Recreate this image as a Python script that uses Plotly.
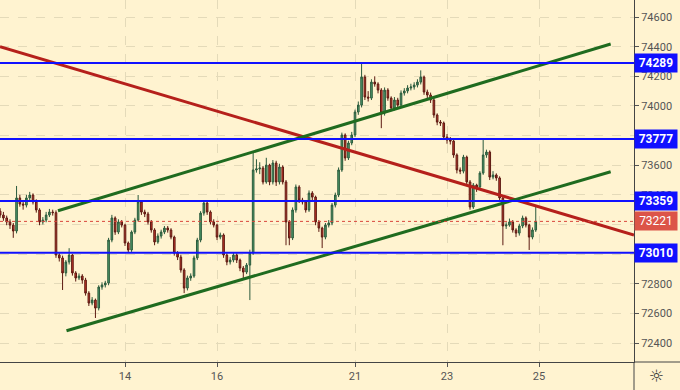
import plotly.graph_objects as go

# ---------------- data ----------------
first_open = 73290
closes = [
    73264, 73244, 73217, 73196, 73156, 73379, 73338, 73331, 73379, 73399,
    73352, 73298, 73217, 73230, 73264, 73284, 73280, 72994, 72974, 72873,
    72947, 72994, 72873, 72839, 72852, 72825, 72737, 72670, 72690, 72636,
    72778, 72792, 72805, 73095, 73244, 73149, 73217, 73196, 73075, 73028,
    73149, 73230, 73352, 73284, 73271, 73217, 73163, 73082, 73122, 73149,
    73176, 73163, 73115, 73007, 72980, 72893, 72771, 72839, 72852, 72974,
    73095, 73277, 73345, 73284, 73217, 73196, 73115, 73129, 72994, 72947,
    72960, 72994, 72960, 72906, 72879, 72926, 73007, 73568, 73575, 73581,
    73487, 73601, 73487, 73615, 73487, 73588, 73487, 73217, 73109, 73298,
    73453, 73365, 73352, 73298, 73412, 73385, 73217, 73176, 73115, 73196,
    73210, 73331, 73399, 73568, 73804, 73649, 73750, 73804, 73959, 74006,
    74195, 74060, 74053, 74161, 74148, 74107, 73952, 74107, 74053, 73986,
    74040, 74006, 74087, 74101, 74121, 74128, 74141, 74161, 74195, 74094,
    74074, 74040, 73939, 73891, 73885, 73790, 73770, 73763, 73669, 73568,
    73560, 73655, 73487, 73318, 73466, 73453, 73547, 73669, 73689, 73520,
    73534, 73514, 73379, 73190, 73196, 73217, 73163, 73142, 73190, 73244,
    73196, 73115, 73163, 73221,
]
highs = [
    73310, 73285, 73260, 73235, 73210, 73460, 73400, 73360, 73400, 73420,
    73410, 73370, 73310, 73250, 73285, 73305, 73300, 73295, 73010, 72990,
    72960, 73040, 73000, 72885, 72870, 72865, 72840, 72750, 72710, 72700,
    72790, 72810, 72820, 73110, 73265, 73255, 73235, 73230, 73205, 73085,
    73160, 73245, 73399, 73365, 73300, 73285, 73230, 73175, 73140, 73165,
    73190, 73190, 73175, 73125, 73020, 72995, 72905, 72855, 72870, 72990,
    73110, 73290, 73365, 73355, 73295, 73235, 73205, 73145, 73140, 73005,
    72980, 73010, 73005, 72970, 72920, 72940, 73030, 73689, 73640, 73620,
    73595, 73650, 73610, 73635, 73630, 73610, 73600, 73500, 73230, 73315,
    73470, 73465, 73380, 73365, 73430, 73425, 73395, 73230, 73185, 73210,
    73230, 73345, 73415, 73585, 73820, 73815, 73765, 73825, 73975, 74030,
    74296, 74210, 74100, 74180, 74200, 74160, 74120, 74125, 74120, 74065,
    74060, 74055, 74105, 74120, 74140, 74150, 74160, 74180, 74240, 74205,
    74110, 74090, 74055, 73950, 73905, 73895, 73810, 73790, 73775, 73680,
    73585, 73670, 73665, 73500, 73480, 73475, 73560, 73783, 73705, 73700,
    73560, 73545, 73525, 73390, 73215, 73240, 73230, 73175, 73205, 73260,
    73255, 73205, 73180, 73320,
]
lows = [
    73245, 73225, 73195, 73170, 73110, 73140, 73320, 73300, 73315, 73365,
    73335, 73280, 73195, 73200, 73215, 73250, 73260, 72975, 72950, 72758,
    72850, 72930, 72855, 72815, 72825, 72800, 72720, 72650, 72655, 72569,
    72620, 72760, 72775, 72790, 73080, 73130, 73135, 73180, 73055, 73010,
    73015, 73135, 73220, 73265, 73250, 73200, 73145, 73060, 73070, 73105,
    73135, 73145, 73100, 72990, 72960, 72875, 72737, 72755, 72820, 72840,
    72960, 73080, 73260, 73265, 73200, 73180, 73095, 73100, 72975, 72925,
    72930, 72945, 72940, 72885, 72839, 72865, 72690, 72995, 73550, 73540,
    73470, 73475, 73465, 73470, 73460, 73470, 73470, 73060, 73060, 73095,
    73280, 73345, 73335, 73280, 73285, 73365, 73195, 73150, 73041, 73100,
    73180, 73195, 73315, 73385, 73555, 73630, 73635, 73735, 73790, 73940,
    73990, 74040, 74030, 74040, 74130, 74085, 73850, 73935, 74035, 73965,
    73970, 73985, 73990, 74070, 74085, 74105, 74110, 74125, 74145, 74075,
    74050, 74020, 73920, 73870, 73865, 73770, 73745, 73740, 73650, 73545,
    73540, 73545, 73470, 73300, 73305, 73420, 73435, 73535, 73650, 73500,
    73505, 73495, 73360, 73060, 73170, 73185, 73145, 73115, 73125, 73175,
    73180, 73028, 73100, 73150,
]
opens = [first_open] + closes[:-1]
slots = list(range(len(closes)))          # one slot per hourly candle

day_labels = ["14", "16", "21", "23", "25"]
day_slots = [38, 66, 108, 136, 164]       # first candle of each labelled day

price_ticks = [72400, 72600, 72800, 73000, 73200, 73400, 73600, 73800,
               74000, 74200, 74400, 74600]
price_tick_labels = ["72400", "72600", "72800", "", "", "73400", "73600", "",
                     "74000", "74200", "74400", "74600"]

level_prices = [74289, 73777, 73359, 73010]
last_price = 73221

red_line_x = [-0.04, 192.9]
red_line_y = [74400, 73129]
green_up_x = [17.6, 185.8]
green_up_y = [73293, 74418]
green_lo_x = [20.2, 185.8]
green_lo_y = [72483, 73556]

x_range = [-0.04, 192.9]
y_range = [72272, 74715]

# ---------------- styles ----------------
BG = "#fff3d0"
BLUE = "#1010ff"
FONT = "Roboto"

fig = go.Figure()

fig.add_trace(go.Candlestick(
    x=slots, open=opens, high=highs, low=lows, close=closes,
    increasing=dict(line=dict(color="#2b5a3c", width=1), fillcolor="#4f9d6c"),
    decreasing=dict(line=dict(color="#5c1a12", width=1), fillcolor="#c8352a"),
    whiskerwidth=0, hoverinfo="skip", showlegend=False,
))

# horizontal levels
for p in level_prices:
    fig.add_shape(type="line", xref="paper", x0=0, x1=1, yref="y", y0=p, y1=p,
                  line=dict(color=BLUE, width=2), layer="above")
fig.add_shape(type="line", xref="paper", x0=0, x1=1, yref="y",
              y0=last_price, y1=last_price,
              line=dict(color="#d9463c", width=1, dash="dot"), layer="above")

# trend lines
fig.add_trace(go.Scatter(x=red_line_x, y=red_line_y, mode="lines",
                         line=dict(color="#b5201b", width=3),
                         hoverinfo="skip", showlegend=False))
fig.add_trace(go.Scatter(x=green_up_x, y=green_up_y, mode="lines",
                         line=dict(color="#1f6b1f", width=3),
                         hoverinfo="skip", showlegend=False))
fig.add_trace(go.Scatter(x=green_lo_x, y=green_lo_y, mode="lines",
                         line=dict(color="#1f6b1f", width=3),
                         hoverinfo="skip", showlegend=False))

# price labels on the axis
for p in level_prices:
    fig.add_annotation(xref="paper", x=1, xanchor="left", yref="y", y=p,
                       text="<b>%d</b>" % p, showarrow=False,
                       font=dict(family=FONT, size=12, color="white"),
                       bgcolor=BLUE, borderpad=2, width=38, align="center")
fig.add_annotation(xref="paper", x=1, xanchor="left", yref="y", y=last_price,
                   text="%d" % last_price, showarrow=False,
                   font=dict(family=FONT, size=12, color="white"),
                   bgcolor="#dc5448", borderpad=2, width=38, align="center")

# settings icon and frame extensions
fig.add_annotation(xref="paper", x=1.035, xanchor="center",
                   yref="paper", y=-0.04, yanchor="middle",
                   text="☼", showarrow=False,
                   font=dict(family="DejaVu Sans", size=17, color="#333"))
fig.add_shape(type="line", xref="paper", yref="paper", x0=1, x1=1, y0=-0.08, y1=0,
              line=dict(color="#444", width=1))
fig.add_shape(type="line", xref="paper", yref="paper", x0=1, x1=1.08, y0=0, y1=0,
              line=dict(color="#444", width=1))

fig.update_layout(
    width=680, height=390,
    margin=dict(l=0, r=46, t=0, b=28),
    paper_bgcolor=BG, plot_bgcolor=BG,
    showlegend=False,
    xaxis=dict(range=x_range, rangeslider=dict(visible=False),
               tickmode="array", tickvals=day_slots, ticktext=day_labels,
               ticks="outside", ticklen=4, tickcolor="#555",
               tickfont=dict(family=FONT, size=11, color="#555"),
               showgrid=True, gridcolor="#e4dab9", griddash="dash",
               showline=True, linecolor="#444", linewidth=1,
               zeroline=False, fixedrange=True),
    yaxis=dict(range=y_range, side="right",
               tickmode="array", tickvals=price_ticks, ticktext=price_tick_labels,
               ticks="outside", ticklen=4, tickcolor="#555",
               tickfont=dict(family=FONT, size=11, color="#555"),
               showgrid=True, gridcolor="#e4dab9", griddash="dash",
               showline=True, linecolor="#444", linewidth=1,
               zeroline=False, fixedrange=True),
)

fig.write_html("out.html", config={"displayModeBar": False},
               post_script="document.body.style.margin='0';"
                           "document.body.style.overflow='hidden';")
